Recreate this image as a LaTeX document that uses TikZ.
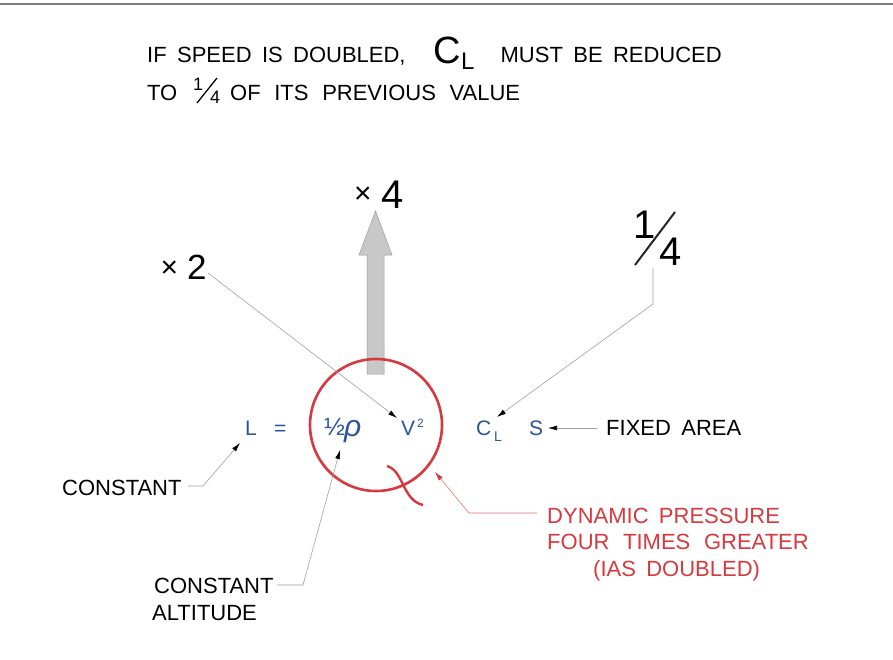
\documentclass[tikz,border=0pt]{standalone}
\usepackage{fontspec}
\setmainfont{Liberation Sans}
\usetikzlibrary{arrows.meta}
\definecolor{eqblue}{HTML}{2B5597}
\definecolor{cred}{HTML}{D7393F}
\definecolor{leadgray}{HTML}{A0A0A0}
\definecolor{arrowfill}{HTML}{C8C8C8}
\newcommand\labfont{\fontsize{22}{26}\selectfont\spaceskip=0.47em\relax}
\newcommand\labfontwide{\fontsize{22}{26}\selectfont\spaceskip=0.62em\relax}
\tikzset{
  txt/.style={inner sep=0pt, anchor=base west, font=\labfont},
  eq/.style={inner sep=0pt, anchor=base west, text=eqblue, font=\fontsize{21}{25}\selectfont},
  big/.style={inner sep=0pt, anchor=base west, font=\fontsize{40}{44}\selectfont},
  timessign/.style={inner sep=0pt, anchor=center, font=\fontsize{30}{30}\selectfont},
  leader/.style={draw=leadgray, line width=0.6pt, -{Latex[length=9pt,width=5pt,color=black]}},
  redleader/.style={draw=cred!70, line width=0.6pt, -{Latex[length=9pt,width=5pt,color=cred]}},
}
\begin{document}
\begin{tikzpicture}[x=1pt,y=-1pt]
\useasboundingbox (0,0) rectangle (893,659);
\fill[white] (0,0) rectangle (893,659);
% top rule
\coordinate (rl) at (0,4);
\coordinate (rr) at (893,4);
\draw[gray, line width=1.5pt] (rl) -- (rr);

% title
\node[txt] (t1) at (147,62) {IF SPEED IS DOUBLED,};
\node[inner sep=0pt, anchor=base west, font=\fontsize{38}{40}\selectfont] (tc) at (433,63) {C};
\node[inner sep=0pt, anchor=base west, font=\fontsize{24}{26}\selectfont] (tl) at (461,69) {L};
\node[txt, anchor=base east] (t2) at (722,62) {MUST BE REDUCED};
\node[txt] (t3) at (147,100) {TO};
\node[inner sep=0pt, anchor=base west, font=\fontsize{18}{18}\selectfont] (f1) at (193,90) {1};
\node[inner sep=0pt, anchor=base west, font=\fontsize{18}{18}\selectfont] (f4) at (210,103) {4};
\coordinate (fs1) at (197,103);
\coordinate (fs2) at (217,78);
\draw[line width=1.3pt] (fs1) -- (fs2);
\node[inner sep=0pt, anchor=base west, font=\labfontwide] (t4) at (230,100) {OF ITS PREVIOUS VALUE};

% big arrow
\draw[draw=gray!80, fill=arrowfill, line width=0.5pt]
  (367,374) -- (367,255) -- (359,255) -- (375.5,211) -- (392,255) -- (384,255) -- (384,374) -- cycle;
\node[timessign] (x4a) at (363,195) {×};
\node[big] (x4) at (381,208) {4};

% x2
\node[timessign] (x2a) at (169.5,269) {×};
\node[inner sep=0pt, anchor=base west, font=\fontsize{35}{40}\selectfont] (x2) at (187,279) {2};

% one quarter
\node[big] (q1) at (633,238) {1};
\node[big] (q4) at (659,265) {4};
\coordinate (s1) at (635,265);
\coordinate (s2) at (675,212);
\draw[line width=2pt, black!85] (s1) -- (s2);

% circle
\node[draw=cred, line width=2.6pt, circle, minimum size=132pt, inner sep=0pt] (circ) at (376,425) {};
\coordinate (ta) at (387,466);
\coordinate (tb) at (423,505);
\draw[cred, line width=2.4pt] (ta) .. controls (404,471) and (402,500) .. (tb);

% equation
\node[eq] (L) at (245,435) {L};
\node[eq] (eqs) at (274,435) {=};
\node[inner sep=0pt, anchor=base west, text=eqblue, font=\fontsize{25}{25}\selectfont] (half) at (324,435) {½};
\node[inner sep=0pt, anchor=base west, text=eqblue, font=\itshape\fontsize{30}{30}\selectfont] (rho) at (344,436) {ρ};
\node[eq] (V) at (401,435) {V};
\node[inner sep=0pt, anchor=base west, text=eqblue, font=\fontsize{12}{14}\selectfont] (V2) at (417,427) {2};
\node[eq] (C) at (476,435) {C};
\node[inner sep=0pt, anchor=base west, text=eqblue, font=\fontsize{14}{16}\selectfont] (CL) at (494,441) {L};
\node[eq] (S) at (529,435) {S};

% labels
\node[txt] (fixed) at (606,435) {FIXED AREA};
\node[txt] (const) at (62,495) {CONSTANT};
\node[txt] (ca1) at (154,593) {CONSTANT};
\node[txt] (ca2) at (152,620) {ALTITUDE};
\node[txt, text=cred] (d1) at (547,523) {DYNAMIC PRESSURE};
\node[txt, text=cred, font=\labfontwide] (d2) at (547,549) {FOUR TIMES GREATER};
\node[txt, text=cred] (d3) at (593,576) {(IAS DOUBLED)};

% leaders
\coordinate (tipV) at (397,418);
\coordinate (tipC) at (497,417);
\coordinate (tipS) at (548,428);
\coordinate (tipL) at (240,443);
\coordinate (tipR) at (340,450);
\coordinate (tipD) at (435,472);
\draw[leader] (208,273) -- (tipV);
\draw[leader] (653,268) -- (653,304) -- (tipC);
\draw[leader] (597,428) -- (tipS);
\draw[leader] (188,486) -- (203,486) -- (tipL);
\draw[leader] (277,585) -- (303,585) -- (tipR);
\draw[redleader] (537,513) -- (469,513) -- (tipD);
\end{tikzpicture}
\end{document}
